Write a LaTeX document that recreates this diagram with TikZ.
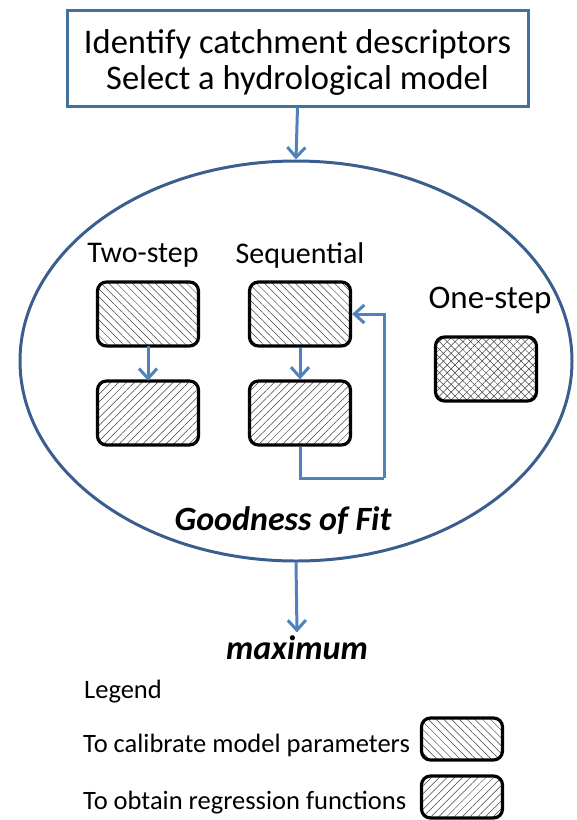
\documentclass[tikz,border=0pt]{standalone}
\usepackage{fontspec}
\setmainfont{Carlito}
\usetikzlibrary{arrows.meta,shapes.geometric,patterns.meta}
\definecolor{boxblue}{HTML}{41719C}
\definecolor{ringblue}{HTML}{3A5F8F}
\definecolor{arrowblue}{HTML}{4F81BD}
\tikzset{
  hatchbox/.style={draw=black,line width=3.2pt,rounded corners=9pt,
    minimum width=101pt,minimum height=64pt},
  calbox/.style={hatchbox,pattern={Lines[angle=-45,distance=5.5pt,line width=0.5pt]},pattern color=black!75},
  regbox/.style={hatchbox,pattern={Lines[angle=45,distance=5.5pt,line width=0.5pt]},pattern color=black!75},
  bothbox/.style={hatchbox,preaction={pattern={Lines[angle=45,distance=5.5pt,line width=0.5pt]},pattern color=black!75},
    pattern={Lines[angle=-45,distance=5.5pt,line width=0.5pt]},pattern color=black!75},
  flowarrow/.style={draw=arrowblue,line width=3pt,-{Straight Barb[length=10pt,width=18pt,line width=3pt]}},
  looparrow/.style={draw=arrowblue,line width=3pt},
  steplabel/.style={font=\fontsize{30}{36}\selectfont},
  legendtext/.style={anchor=west,font=\fontsize{26.5}{32}\selectfont,inner sep=0pt}
}
\begin{document}
\begin{tikzpicture}[x=1pt,y=-1pt]
  \useasboundingbox (0,0) rectangle (577,820);
  %%%%% top box and ring %%%%%
  \node[draw=boxblue,line width=3pt,minimum width=461pt,minimum height=96pt,align=center,
    font=\fontsize{34.5}{36}\selectfont] (descr) at (297.5,58)
    {\rule{0pt}{32pt}Identify catchment descriptors\\Select a hydrological model};
  \node[draw=ringblue,line width=3pt,ellipse,minimum width=552pt,minimum height=400pt] (ring) at (296,361) {};
  \draw[flowarrow] (descr.south) -- (ring.north);

  %%%%% two-step %%%%%
  \node[steplabel] (twolabel) at (143,255) {Two-step};
  \node[calbox] (twoA) at (148,314) {};
  \node[regbox] (twoB) at (148,413) {};
  \draw[flowarrow] (twoA) -- (twoB);

  %%%%% sequential %%%%%
  \node[steplabel] (seqlabel) at (300,255) {Sequential};
  \node[calbox] (seqA) at (300,314) {};
  \node[regbox] (seqB) at (300,413) {};
  \draw[flowarrow] (seqA) -- (seqB);
  \coordinate (loopcorner) at (384,478);
  \draw[looparrow] (seqB.south) |- (loopcorner);
  \draw[flowarrow] (loopcorner) |- (seqA.east);

  %%%%% one-step %%%%%
  \node[steplabel,font=\fontsize{33}{38}\selectfont] (onelabel) at (490,300) {One-step};
  \node[bothbox] (oneA) at (486,369) {};

  %%%%% goodness of fit %%%%%
  \node[font=\fontsize{34}{40}\selectfont\bfseries\itshape] (gof) at (283,521) {Goodness of Fit};
  \node[font=\fontsize{34}{40}\selectfont\bfseries\itshape] (maxim) at (297,648) {maximum};
  \draw[flowarrow] (ring.south) -- (maxim.north);

  %%%%% legend %%%%%
  \node[legendtext] (legend) at (84,692) {Legend};
  \node[legendtext] (calib) at (83,745) {To calibrate model parameters};
  \node[legendtext] (regr) at (83,803) {To obtain regression functions};
  \node[calbox,minimum width=81pt,minimum height=42pt] (legcal) at (462,739) {};
  \node[regbox,minimum width=81pt,minimum height=42pt] (legreg) at (462,797) {};
\end{tikzpicture}
\end{document}
